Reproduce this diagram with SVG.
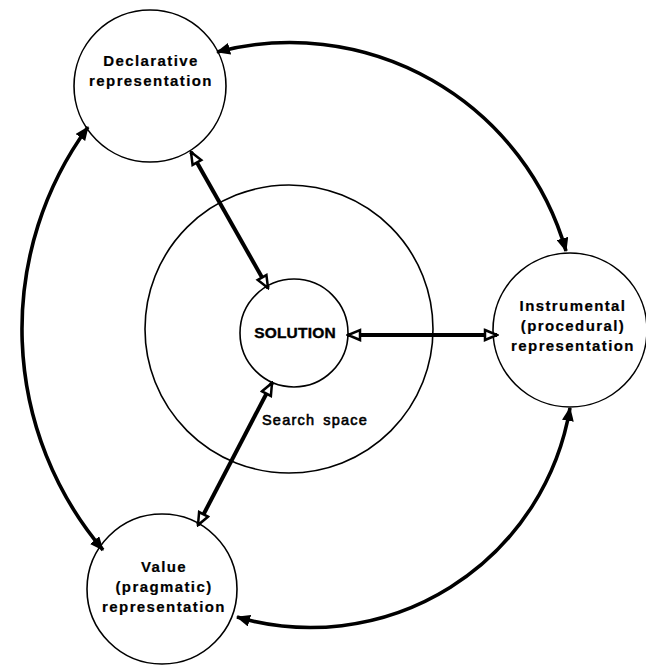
<svg xmlns="http://www.w3.org/2000/svg" width="646" height="666" viewBox="0 0 646 666">
  <style>
    .ring { fill: #fff; stroke: #000; stroke-width: 1.6; }
    .space { fill: none; stroke: #000; stroke-width: 1.6; }
    .label { font-family: "Liberation Sans", Arial, sans-serif; font-weight: bold; font-size: 15px; letter-spacing: 1.4px; fill: #000; stroke: #000; stroke-width: 0.2; text-anchor: middle; }
    .core { font-family: "Liberation Sans", Arial, sans-serif; font-weight: bold; font-size: 15.5px; letter-spacing: 0.2px; fill: #000; stroke: #000; stroke-width: 0.4; text-anchor: middle; }
    .note { font-family: "Liberation Sans", Arial, sans-serif; font-size: 14.5px; letter-spacing: 1.2px; word-spacing: 3px; fill: #000; stroke: #000; stroke-width: 0.6; }
    .arc { fill: none; stroke: #000; stroke-width: 3.6; marker-start: url(#solid); marker-end: url(#solid); }
    .link { fill: none; stroke: #000; stroke-width: 4; marker-start: url(#hollow); marker-end: url(#hollow); }
  </style>
  <defs>
    <marker id="solid" viewBox="0 0 14 12" refX="13" refY="6" markerWidth="14" markerHeight="12" markerUnits="userSpaceOnUse" orient="auto-start-reverse">
      <path d="M0,0 L14,6 L0,12 z" fill="#000"/>
    </marker>
    <marker id="hollow" viewBox="-2 -2 16 14" refX="12" refY="5" markerWidth="16" markerHeight="14" markerUnits="userSpaceOnUse" orient="auto-start-reverse">
      <path d="M0,0 L12,5 L0,10 z" fill="#fff" stroke="#000" stroke-width="2.5" stroke-linejoin="miter"/>
    </marker>
  </defs>

  <rect width="646" height="666" fill="#fff"/>

  <!-- outer region around the solution -->
  <g id="search-space">
    <circle class="space" cx="289" cy="329" r="144"/>
    <text class="note" x="262" y="425">Search space</text>
  </g>

  <g id="declarative">
    <circle class="ring" cx="150" cy="86" r="76"/>
    <text class="label" x="151" y="66">Declarative</text>
    <text class="label" x="151" y="86">representation</text>
  </g>

  <g id="instrumental">
    <circle class="ring" cx="570" cy="330" r="77"/>
    <text class="label" x="573" y="311">Instrumental</text>
    <text class="label" x="573" y="331">(procedural)</text>
    <text class="label" x="573" y="351">representation</text>
  </g>

  <g id="value">
    <circle class="ring" cx="162" cy="589" r="75"/>
    <text class="label" x="164" y="572">Value</text>
    <text class="label" x="164" y="592">(pragmatic)</text>
    <text class="label" x="164" y="612">representation</text>
  </g>

  <g id="solution">
    <circle class="ring" cx="294" cy="333" r="54"/>
    <text class="core" x="295" y="338">SOLUTION</text>
  </g>

  <!-- curved links between the three representations, straight links to the solution -->
  <g id="connectors">
    <path class="arc" d="M217,52 A287,287 0 0,1 566,251"/>
    <path class="arc" d="M570,408 A263,263 0 0,1 237,617"/>
    <path class="arc" d="M88,127 A342,342 0 0,0 103,550"/>
    <path class="link" d="M191,152 L268,288"/>
    <path class="link" d="M348,335 L497,335"/>
    <path class="link" d="M272,383 L198,525"/>
  </g>
</svg>
